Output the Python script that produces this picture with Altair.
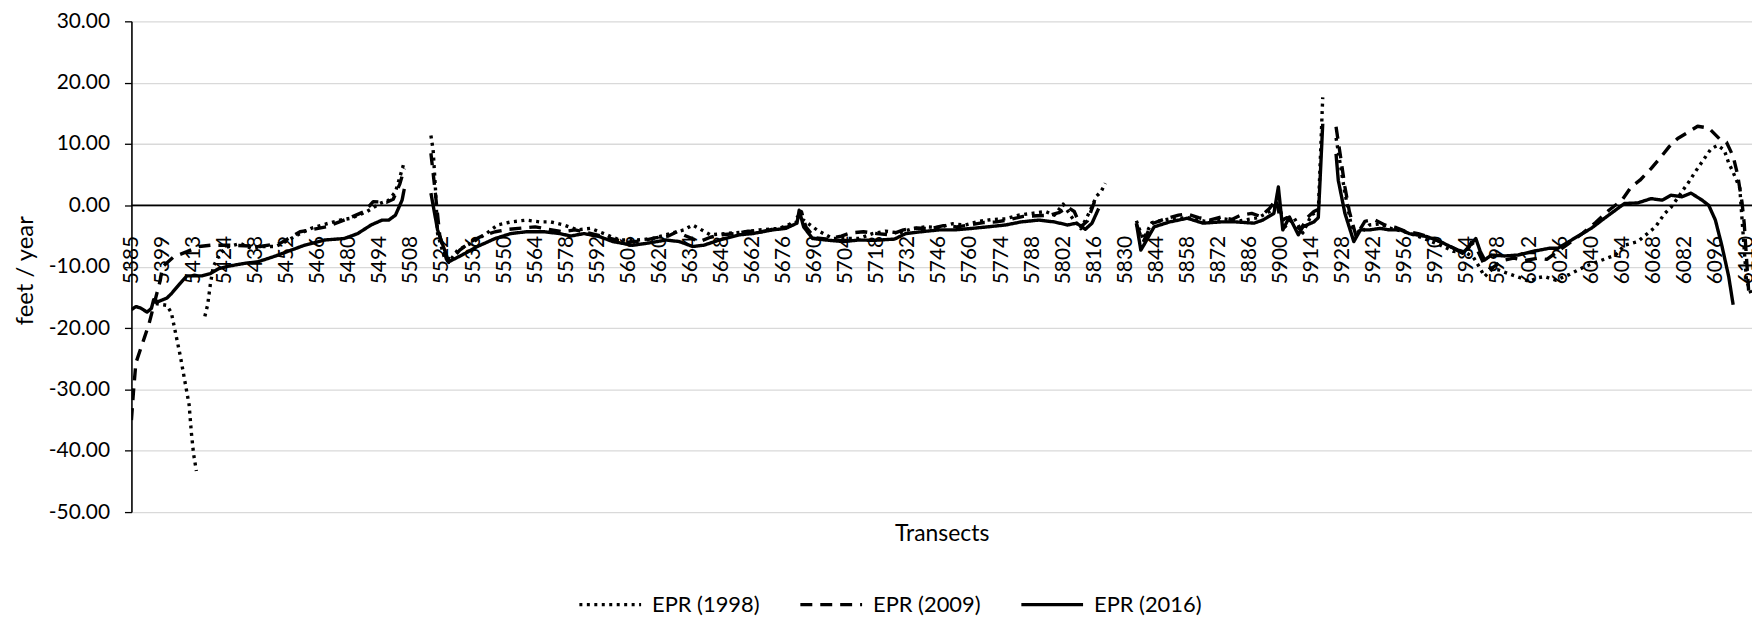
import altair as alt
import pandas as pd

# ---- data (transect id, feet/year); None = break in the line ----
epr_1998 = [
    (5396, -16.0), (5401, -16.3), (5403, -17.5), (5405, -21.0), (5407, -24.5), (5409, -28.5),
    (5411, -32.5), (5412, -37.0), (5413, -40.5), (5414, -43.3), None,
    (5417, -18.1), (5418, -16.2), (5419, -12.7), (5420, -10.0), (5422, -8.1), (5425, -6.8),
    (5431, -6.2), (5436, -7.0), (5441, -6.7), (5447, -6.7), (5450, -6.2), (5458, -4.6),
    (5463, -3.75), (5468, -3.2), (5476, -2.4), (5481, -2.1), (5488, -1.05), (5494, 0.3),
    (5498, 0.85), (5501, 2.2), (5503, 4.6), (5505, 7.1), None,
    (5517, 11.4), (5518, 9.0), (5519, 3.0), (5520, -4.6), (5523, -8.4), (5525, -9.3),
    (5529, -7.3), (5535, -6.2), (5542, -4.6), (5547, -3.2), (5553, -2.7), (5560, -2.4),
    (5566, -2.7), (5571, -2.7), (5577, -3.2), (5583, -4.0), (5589, -3.75), (5595, -4.6),
    (5602, -5.65), (5610, -5.65), (5617, -5.4), (5623, -4.8), (5631, -4.0), (5635, -3.2),
    (5643, -4.8), (5650, -4.6), (5659, -4.3), (5665, -4.0), (5674, -3.75), (5680, -2.9),
    (5685, -2.4), (5691, -4.0), (5698, -5.4), (5704, -5.4), (5710, -5.4), (5716, -4.6),
    (5722, -4.2), (5728, -4.5), (5734, -3.8), (5740, -3.5), (5746, -3.6), (5752, -3.0),
    (5758, -3.2), (5764, -2.6), (5770, -2.3), (5776, -2.2), (5782, -1.6), (5788, -1.3),
    (5794, -1.0), (5798, -1.6), (5802, 0.2), (5806, -2.0), (5810, -3.8), (5814, -1.0),
    (5817, 1.5), (5819, 2.2), (5821, 3.6), None,
    (5835, -2.5), (5838, -5.5), (5842, -2.8), (5850, -2.2), (5858, -2.0), (5866, -2.6),
    (5874, -2.2), (5882, -2.5), (5890, -2.0), (5896, -0.8), (5899, 0.3), (5902, -3.5),
    (5906, -2.0), (5910, -4.5), (5914, -1.5), (5917, -1.0), (5919, 17.6), None,
    (5925, 11.0), (5927, 6.5), (5929, 2.0), (5932, -3.5), (5936, -4.5), (5940, -3.2),
    (5945, -3.0), (5950, -3.8), (5955, -4.2), (5960, -4.8), (5966, -5.6), (5972, -6.5),
    (5978, -7.5), (5984, -7.8), (5987, -8.5), (5989, -9.7), (5992, -11.6), (5995, -10.5),
    (5998, -10.5), (6004, -11.3), (6008, -11.8), (6012, -12.4), (6016, -11.8), (6019, -11.6),
    (6024, -12.2), (6030, -11.3), (6037, -10.0), (6045, -8.9), (6051, -8.1), (6055, -6.5),
    (6061, -5.9), (6069, -3.5), (6073, -1.4), (6076, -0.3), (6079, 1.2), (6082, 2.8),
    (6084, 3.8), (6087, 5.5), (6090, 7.1), (6094, 9.2), (6097, 9.8), (6100, 9.0),
    (6102, 6.9), (6104, 5.4), (6107, 2.8), (6110, -12.2), (6112, -14.3),
]

epr_2009 = [
    (5385, -35.0), (5386, -30.0), (5387, -25.7), (5391, -21.4), (5393, -19.2), (5398, -12.2),
    (5399, -10.0), (5404, -8.4), (5410, -7.55), (5415, -6.7), (5419, -6.5), (5428, -6.5),
    (5440, -6.7), (5449, -6.2), (5458, -4.3), (5470, -3.5), (5480, -2.1), (5487, -1.0),
    (5491, 0.6), (5497, 0.5), (5500, 1.0), (5503, 3.5), (5505, 6.0), None,
    (5517, 8.5), (5519, 2.0), (5521, -5.0), (5524, -8.8), (5527, -8.5), (5530, -7.3),
    (5535, -5.9), (5540, -5.0), (5546, -4.3), (5552, -3.9), (5558, -3.7), (5564, -3.5),
    (5570, -3.9), (5576, -4.3), (5582, -4.0), (5588, -4.5), (5594, -5.0), (5600, -5.6),
    (5606, -6.0), (5612, -5.8), (5618, -5.3), (5624, -5.0), (5628, -4.3), (5632, -5.0),
    (5638, -5.9), (5643, -5.2), (5648, -4.8), (5654, -4.6), (5660, -4.2), (5666, -4.3),
    (5672, -3.8), (5678, -3.5), (5682, -2.0), (5684, -1.0), (5686, -3.5), (5690, -5.3),
    (5696, -5.5), (5702, -5.0), (5706, -4.5), (5712, -4.3), (5718, -4.6), (5724, -4.8),
    (5730, -4.0), (5736, -3.7), (5742, -3.8), (5748, -3.3), (5754, -3.5), (5760, -3.2),
    (5766, -2.8), (5772, -2.7), (5778, -2.3), (5784, -1.8), (5790, -1.7), (5796, -1.6),
    (5800, -1.2), (5804, -0.3), (5807, -1.0), (5810, -3.5), (5813, -2.5), (5816, 0.5),
    (5818, 1.8), None,
    (5835, -3.0), (5838, -6.0), (5842, -3.0), (5848, -2.2), (5854, -1.6), (5858, -1.4),
    (5863, -2.0), (5868, -2.4), (5873, -1.9), (5878, -2.3), (5882, -1.6), (5887, -1.3),
    (5891, -1.8), (5895, -0.5), (5898, 1.0), (5900, -2.5), (5903, -2.0), (5906, -3.0),
    (5909, -4.0), (5912, -2.0), (5915, -1.0), (5918, -0.5), None,
    (5925, 12.8), (5927, 8.0), (5929, 3.0), (5931, -1.0), (5934, -5.0), (5938, -2.6),
    (5942, -2.3), (5947, -3.2), (5952, -3.6), (5956, -4.2), (5962, -4.6), (5968, -5.3),
    (5974, -6.3), (5980, -7.3), (5984, -7.6), (5986, -6.0), (5989, -7.5), (5992, -9.8),
    (5995, -10.3), (6000, -9.0), (6005, -8.6), (6010, -9.0), (6016, -8.6), (6020, -8.8),
    (6025, -7.5), (6030, -6.2), (6036, -4.6), (6042, -2.8), (6048, -0.8), (6054, 0.9),
    (6058, 3.0), (6062, 4.1), (6067, 6.0), (6071, 7.7), (6075, 9.5), (6079, 10.9),
    (6084, 12.0), (6088, 12.9), (6093, 12.6), (6098, 10.8), (6101, 10.3), (6104, 8.0),
    (6106, 5.0), (6108, 0.5), (6109, -3.0), (6111, -14.0),
]

epr_2016 = [
    (5385, -17.0), (5387, -16.5), (5389, -16.7), (5392, -17.4), (5394, -16.8), (5395, -15.4),
    (5397, -15.7), (5401, -15.1), (5403, -14.4), (5407, -12.7), (5410, -11.5), (5416, -11.5),
    (5419, -11.1), (5422, -10.3), (5426, -9.9), (5433, -9.45), (5439, -9.2), (5447, -8.25),
    (5454, -7.3), (5460, -6.5), (5469, -5.65), (5478, -5.4), (5484, -4.6), (5490, -3.2),
    (5495, -2.4), (5498, -2.4), (5501, -1.6), (5504, 0.85), (5505, 2.7), None,
    (5517, 2.0), (5520, -4.0), (5525, -9.2), (5531, -8.1), (5538, -6.7), (5546, -5.4),
    (5553, -4.6), (5560, -4.3), (5568, -4.3), (5575, -4.6), (5580, -5.0), (5586, -4.6),
    (5593, -5.1), (5599, -5.9), (5608, -6.5), (5614, -6.2), (5623, -5.65), (5629, -5.9),
    (5635, -6.7), (5640, -6.5), (5647, -5.65), (5656, -4.8), (5662, -4.6), (5671, -4.0),
    (5677, -3.75), (5682, -2.9), (5683, -0.8), (5685, -3.5), (5689, -5.4), (5695, -5.65),
    (5703, -5.9), (5710, -5.65), (5717, -5.7), (5726, -5.5), (5731, -4.6), (5738, -4.3),
    (5746, -4.0), (5753, -4.0), (5761, -3.75), (5768, -3.5), (5776, -3.2), (5783, -2.7),
    (5791, -2.4), (5798, -2.7), (5804, -3.2), (5808, -2.9), (5812, -3.9), (5815, -2.9),
    (5818, -0.5), None,
    (5835, -2.9), (5837, -7.3), (5838, -6.7), (5843, -3.5), (5850, -2.7), (5858, -2.1),
    (5865, -2.9), (5873, -2.7), (5880, -2.7), (5888, -2.9), (5892, -2.4), (5897, -1.3),
    (5899, 3.0), (5901, -4.0), (5904, -1.9), (5908, -4.8), (5910, -3.5), (5915, -2.7),
    (5917, -2.0), (5919, 13.3), None,
    (5925, 8.4), (5926, 4.1), (5929, -1.3), (5933, -5.9), (5936, -4.0), (5940, -4.0),
    (5945, -3.75), (5949, -4.0), (5954, -4.0), (5958, -4.6), (5966, -5.1), (5972, -5.9),
    (5978, -7.0), (5982, -7.8), (5985, -6.7), (5988, -5.4), (5990, -7.5), (5992, -8.9),
    (5995, -8.1), (6001, -8.25), (6007, -8.1), (6013, -7.55), (6021, -7.0), (6025, -7.0),
    (6030, -5.9), (6036, -4.6), (6040, -3.75), (6046, -2.1), (6052, -0.5), (6055, 0.3),
    (6061, 0.4), (6067, 1.1), (6072, 0.85), (6076, 1.65), (6081, 1.4), (6085, 2.0),
    (6090, 0.85), (6093, 0.0), (6096, -2.4), (6099, -6.7), (6102, -11.6), (6104, -16.2),
]

series_names = ["EPR (1998)", "EPR (2009)", "EPR (2016)"]
x_tick_labels = [5385, 5399, 5413] + list(range(5424, 6111, 14))
y_ticks = [30, 20, 10, 0, -10, -20, -30, -40, -50]


def slot(t):
    """Category position of a transect on the (evenly spaced) category axis."""
    if t <= 5413:
        return t - 5385
    if t < 5424:
        return 28 + (t - 5413) * 14 / 11
    return t - 5382


rows = []
for name, pts in zip(series_names, [epr_1998, epr_2009, epr_2016]):
    seg = 0
    for p in pts:
        if p is None:
            seg += 1
            continue
        rows.append({"series": name, "seg": f"{name}-{seg}", "t": p[0],
                     "pos": slot(p[0]), "v": p[1]})
df = pd.DataFrame(rows)

FONT = "Lato"

x_axis = alt.Axis(
    values=[slot(t) for t in x_tick_labels],
    labelExpr="datum.value <= 28 ? '' + (datum.value + 5385) : '' + (datum.value + 5382)",
    labelAngle=270, labelFont=FONT, labelFontSize=21, labelColor="black",
    labelPadding=4, labelOverlap=False, labelBound=False, labelFlush=False,
    offset=-282, domain=False, ticks=False, grid=False,
    title="Transects", titleFont=FONT, titleFontSize=23, titleFontWeight="normal",
    titleColor="black", titleY=304, titleBaseline="middle",
)

y_axis = alt.Axis(
    values=y_ticks,
    labelExpr="(datum.value < 0 ? '-' : '') + format(abs(datum.value), '.2f')",
    labelFont=FONT, labelFontSize=21, labelColor="black", labelPadding=15,
    tickSize=7, tickColor="black", tickWidth=1.3,
    domainColor="black", domainWidth=1.6,
    gridColor="#d9d9d9", gridWidth=1.3,
    title="feet / year", titleFont=FONT, titleFontSize=24, titleFontWeight="normal",
    titleColor="black", titleAngle=270, titleX=-106, titleY=250,
    titleBaseline="middle", titleAlign="center",
)

x_scale = alt.Scale(domain=[0, 730.5], nice=False, zero=False)
y_scale = alt.Scale(domain=[-50, 30], nice=False, zero=False)

zero_line = alt.Chart(pd.DataFrame({"v": [0]})).mark_rule(
    color="black", strokeWidth=1.6
).encode(y=alt.Y("v:Q", scale=y_scale, axis=y_axis))

lines = alt.Chart(df).mark_line(
    color="black", strokeWidth=3.4, clip=True, strokeJoin="round"
).encode(
    x=alt.X("pos:Q", scale=x_scale, axis=x_axis),
    y=alt.Y("v:Q", scale=y_scale, axis=y_axis),
    strokeDash=alt.StrokeDash(
        "series:N",
        scale=alt.Scale(domain=series_names, range=[[3, 4.5], [12, 8], [1, 0]]),
        legend=alt.Legend(
            title=None, orient="none", direction="horizontal",
            legendX=448, legendY=553,
            symbolType="stroke", symbolSize=3844, symbolStrokeWidth=3.4,
            symbolStrokeColor="black",
            labelFont=FONT, labelFontSize=22, labelColor="black",
            labelOffset=9, columnPadding=33, padding=0,
        ),
    ),
    detail="seg:N",
)

chart = alt.layer(zero_line, lines).properties(
    width=1628, height=493,
    autosize=alt.AutoSizeParams(type="none"),
    padding={"left": 124, "top": 12, "right": 0, "bottom": 104},
    background="white",
).configure_view(stroke=None)

chart.save("out.html", embed_options={"renderer": "svg", "actions": False})
